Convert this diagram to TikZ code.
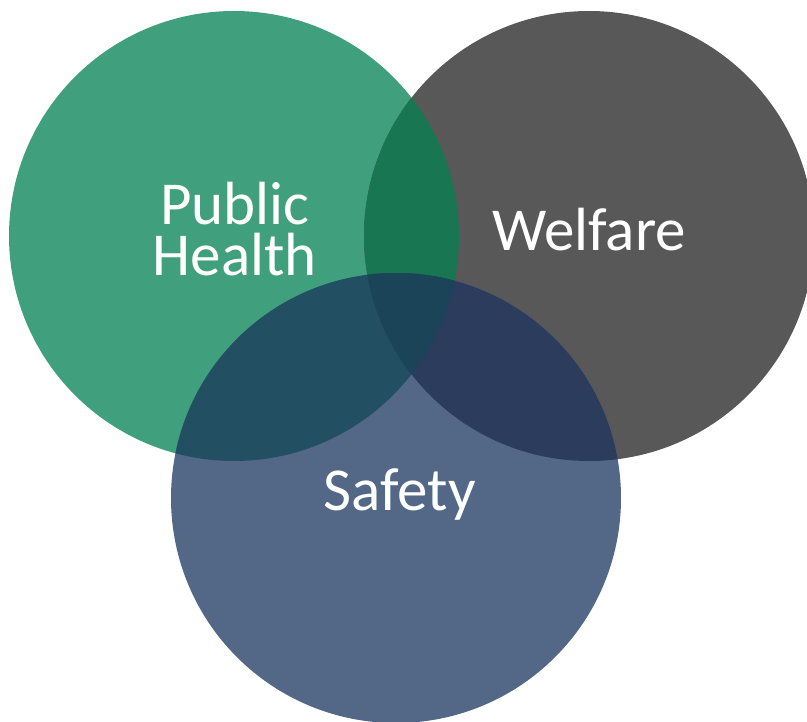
\documentclass[tikz,border=0pt]{standalone}
\usepackage{fontspec}
\setmainfont{Carlito}

\definecolor{healthgreen}{RGB}{64,159,124}
\definecolor{welfaregray}{RGB}{88,88,88}
\definecolor{safetyblue}{RGB}{83,103,134}
\definecolor{hwgreen}{RGB}{24,118,82}
\definecolor{hsteal}{RGB}{35,79,98}
\definecolor{wsnavy}{RGB}{43,60,93}
\definecolor{allteal}{RGB}{27,68,88}

\begin{document}
\begin{tikzpicture}[x=1pt,y=-1pt,
  label/.style={text=white,inner sep=0pt,align=center,font=\fontsize{61}{51}\selectfont}]
		\useasboundingbox (0,0) rectangle (807,722);
		\clip (0,0) rectangle (807,722);
		\coordinate (health) at (234,236);
		\coordinate (welfare) at (589,236);
		\coordinate (safety) at (396,498);
		% the three circles
		\fill[healthgreen] (health) circle (225pt);
		\fill[welfaregray] (welfare) circle (225pt);
		\fill[safetyblue] (safety) circle (225pt);
		% overlaps
		\begin{scope}
			\clip (health) circle (225pt);
			\fill[hwgreen] (welfare) circle (225pt);
			\fill[hsteal] (safety) circle (225pt);
		\end{scope}
		\begin{scope}
			\clip (welfare) circle (225pt);
			\fill[wsnavy] (safety) circle (225pt);
		\end{scope}
		\begin{scope}
			\clip (health) circle (225pt);
			\clip (welfare) circle (225pt);
			\fill[allteal] (safety) circle (225pt);
		\end{scope}
		\node[label,anchor=base] (ph) at (235,276) {Public\\Health};
		\node[label,anchor=base] (wf) at (589,251) {Welfare};
		\node[label,anchor=base] (sf) at (400,511) {Safety};
\end{tikzpicture}
\end{document}
